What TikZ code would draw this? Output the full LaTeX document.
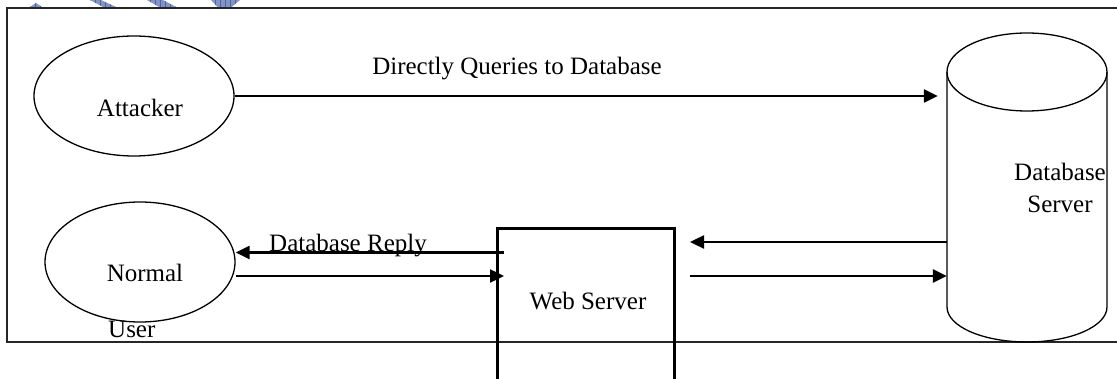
\documentclass[tikz,border=0pt]{standalone}
\usepackage{fontspec}
\setmainfont{Liberation Serif}
\usetikzlibrary{arrows.meta,shapes.geometric,calc}
\definecolor{wmfill}{RGB}{128,148,200}
\definecolor{wmgrid}{RGB}{80,100,160}
\tikzset{
  lbl/.style={font=\fontsize{25}{30}\selectfont, inner sep=0pt},
  actor/.style={draw, ellipse, line width=1.3pt, inner sep=0pt},
  arr/.style={line width=2.4pt, -{Triangle[length=14pt,width=13pt]}},
  frameline/.style={line width=1.5pt, draw=black!85},
  boxline/.style={line width=3pt},
  cyl/.style={line width=1.3pt},
  wm/.style={fill=wmfill, draw=none}
}
\begin{document}
\begin{tikzpicture}[x=1pt,y=-1pt]
\useasboundingbox (0,0) rectangle (1117,379);

% faint hatched marks along the top edge
\foreach \shp in {
  {(30,7)--(36,3)--(42,7)--cycle},
  {(90,0)--(101,0)--(117,7.5)--(104,7.5)--cycle},
  {(147,0)--(163,0)--(177,7.5)--(160,7.5)--cycle},
  {(211,0)--(240,0)--(231,7.5)--(218,7.5)--cycle}} {
  \begin{scope}
    \path[clip] \shp;
    \fill[wmfill] (0,0) rectangle (260,10);
    \draw[wmgrid, line width=0.4pt] (0,0) grid[step=5] (260,10);
  \end{scope}
}

% outer frame (open on the right)
\draw[frameline] (1117,8) -- (7,8) -- (7,342) -- (1117,342);

% actors
\node[actor, minimum width=200, minimum height=120] (attacker) at (134,96) {};
\node[actor, minimum width=190, minimum height=120] (normal) at (140,262) {};
\node[lbl, anchor=base] (attackerTxt) at (140,117) {Attacker};
\node[lbl, anchor=base] (normalTxt) at (145,282) {Normal};
\node[lbl, anchor=base west] (userTxt) at (108,338) {User};

% web server box (runs past the lower edge)
\node[draw, boxline, rectangle, minimum width=177, minimum height=161, inner sep=0pt] (web) at (585.5,309.5) {};
\node[lbl, anchor=base] (webTxt) at (588,310) {Web Server};

% database cylinder: body with lower front arc, then the top disc
\draw[cyl] (947,72) -- (947,307) arc[start angle=180, end angle=0, x radius=80, y radius=35] -- (1107,72);
\draw[cyl] (1027,72) ellipse[x radius=80, y radius=39];
\node[inner sep=0pt, minimum width=160, minimum height=235] (db) at (1027,189.5) {};
\node[lbl, anchor=base] (dbTxt1) at (1060,181) {Database};
\node[lbl, anchor=base] (dbTxt2) at (1060,213) {Server};

% arrow end points
\coordinate (wsOut) at (504,252.5);
\coordinate (wsIn)  at (504,276);
\coordinate (dbOut) at (690,242);
\coordinate (dbIn)  at (690,276);

% connectors
\draw[arr, shorten >=9pt] (attacker.east) -- (attacker.east -| db.west);
\node[lbl, anchor=base] (q) at (517,75) {Directly Queries to Database};

\draw[arr] (wsOut) -- (wsOut -| normal.east);
\node[lbl, anchor=base] (reply) at (348,252) {Database Reply};
\draw[arr] (normal.east |- wsIn) -- (wsIn);

\draw[arr] (db.west |- dbOut) -- (dbOut);
\draw[arr] (dbIn) -- (dbIn -| db.west);
\end{tikzpicture}
\end{document}
